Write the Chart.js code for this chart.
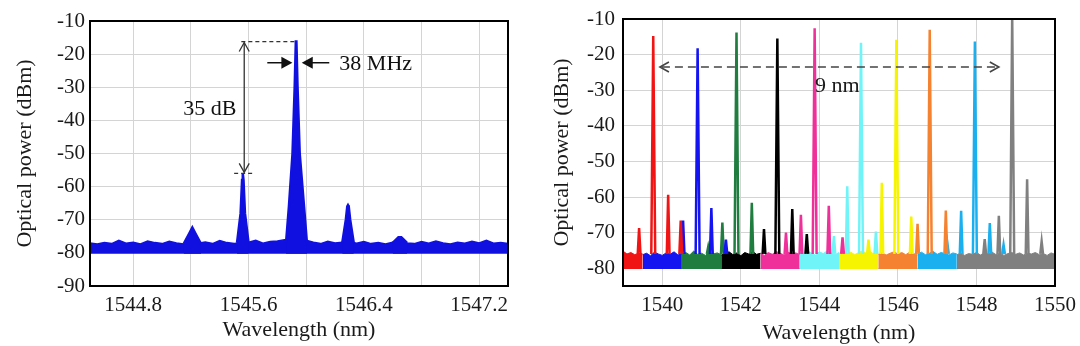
<!DOCTYPE html>
<html>
<head>
<meta charset="utf-8">
<script src="https://cdn.jsdelivr.net/npm/chart.js@4.4.1/dist/chart.umd.min.js"></script>
<style>
  html, body { margin: 0; padding: 0; background: #fff; }
  body { width: 1080px; height: 346px; overflow: hidden; position: relative; }
  .panel { position: absolute; top: 0; width: 540px; height: 346px; }
</style>
</head>
<body>
<div class="panel" style="left:0"><canvas id="single" width="540" height="346"></canvas></div>
<div class="panel" style="left:540px"><canvas id="multi" width="540" height="346"></canvas></div>
<script>
// ---------- left panel: one laser ----------
// noise floor top edge, read every 0.05 nm from 1544.50 to 1547.40
const singleFloorStart = 1544.5;
const singleFloorStep = 0.05;
const singleFloorTop = [
  -77.0, -77.3, -76.9, -77.2, -76.2, -77.1, -76.8, -77.3, -76.4, -76.9,
  -77.2, -76.5, -77.0, -77.3, -76.8, -77.1, -76.7, -77.2, -76.3, -76.9,
  -77.2, -77.0, -76.8, -76.2, -77.1, -76.6, -76.4, -76.0, -76.0, -76.0,
  -76.2, -76.8, -77.2, -76.5, -77.0, -76.8, -76.6, -77.1, -76.6, -77.2,
  -76.9, -77.3, -76.8, -76.5, -77.0, -77.2, -76.6, -77.1, -76.4, -77.0,
  -77.3, -76.8, -77.1, -76.5, -77.0, -76.2, -77.1, -76.9, -77.2
];
const singleFloorBottom = -80.3;
// peaks, [wavelength nm, power dBm] along each peak outline
const singlePeaks = [
  [[1545.15, -77.3], [1545.19, -74.0], [1545.21, -72.3], [1545.23, -74.0], [1545.27, -77.3]],
  [[1545.52, -77.0], [1545.545, -68.0], [1545.555, -58.0], [1545.56, -56.0], [1545.565, -58.0], [1545.575, -68.0], [1545.60, -77.0]],
  [[1545.86, -77.0], [1545.88, -66.0], [1545.905, -50.0], [1545.92, -30.0], [1545.928, -16.2],
   [1545.932, -16.2], [1545.94, -30.0], [1545.955, -50.0], [1545.985, -66.0], [1546.005, -77.0]],
  [[1546.25, -77.0], [1546.275, -70.0], [1546.285, -66.0], [1546.29, -65.6], [1546.295, -66.0], [1546.305, -70.0], [1546.33, -77.0]],
  [[1546.60, -77.0], [1546.64, -75.3], [1546.66, -75.3], [1546.70, -77.0]]
];
const singleXTicks = [1544.8, 1545.2, 1545.6, 1546.0, 1546.4, 1546.8, 1547.2];
const singleXLabels = ['1544.8', '', '1545.6', '', '1546.4', '', '1547.2'];
const singleYTicks = [-90, -80, -70, -60, -50, -40, -30, -20, -10];

// ---------- right panel: ten lasers ----------
const bandEdges = [1539.0, 1539.5, 1540.5, 1541.5, 1542.5, 1543.5, 1544.5, 1545.5, 1546.5, 1547.5, 1550.0];
// noise floor top edge of each band, read every 0.1 nm from the band start
const floorTops = [
  [-75.2, -76.0, -75.6, -76.2, -75.8, -76.0],
  [-76.2, -75.8, -76.5, -75.5, -76.0, -76.4, -75.7, -76.1, -75.4, -76.3, -75.9],
  [-76.0, -75.6, -76.3, -75.2, -76.1, -75.8, -76.4, -75.5, -76.0, -75.7, -76.2],
  [-76.3, -75.9, -75.4, -76.2, -75.7, -76.5, -75.6, -76.0, -75.3, -76.1, -75.8],
  [-75.9, -76.4, -75.6, -76.1, -75.3, -75.8, -76.3, -75.5, -76.0, -75.7, -76.2],
  [-75.5, -76.0, -75.2, -75.8, -76.3, -75.4, -75.9, -75.1, -75.7, -76.2, -75.6],
  [-75.8, -75.3, -76.0, -75.5, -76.2, -75.6, -75.1, -75.9, -75.4, -76.1, -75.7],
  [-76.1, -75.7, -76.3, -75.8, -75.4, -76.0, -75.6, -76.2, -75.5, -75.9, -76.3],
  [-76.0, -75.5, -76.2, -75.8, -75.3, -76.1, -75.6, -75.9, -76.3, -75.7, -76.0],
  [-76.2, -75.8, -76.4, -75.9, -76.1, -75.6, -76.3, -75.7, -76.0, -75.5, -76.2, -75.8, -76.4,
   -75.9, -75.6, -76.1, -75.7, -76.3, -75.8, -76.0, -75.6, -76.2, -75.9, -76.4, -75.7, -76.1]
];
const floorBottom = -80.2;
const mainPeakWl = [1539.77, 1540.90, 1541.89, 1542.93, 1543.88, 1545.06, 1545.96, 1546.81, 1547.96, 1548.91];
const mainPeakDbm = [-14.8, -18.2, -13.8, -15.5, -12.6, -16.7, -15.8, -13.0, -16.3, -9.0];
const sidePeaks = [
  [[1539.41, -68.7], [1540.15, -59.4], [1540.47, -66.6]],
  [[1540.53, -66.6], [1541.25, -63.1], [1541.62, -72.0]],
  [[1541.17, -74.0], [1541.53, -67.2], [1542.28, -61.6]],
  [[1542.59, -69.0], [1543.31, -63.4], [1543.68, -70.4]],
  [[1543.15, -70.0], [1543.53, -65.0], [1544.24, -62.5], [1544.59, -71.3]],
  [[1544.37, -71.0], [1544.71, -57.0], [1545.44, -69.7]],
  [[1545.25, -72.0], [1545.59, -56.0], [1546.34, -65.5]],
  [[1546.50, -67.5], [1547.22, -63.8]],
  [[1547.26, -73.0], [1547.61, -63.9], [1548.34, -67.3], [1548.69, -73.4]],
  [[1548.21, -71.8], [1548.57, -65.3], [1549.29, -55.0], [1549.66, -72.5]]
];
const multiXTicks = [1540, 1542, 1544, 1546, 1548, 1550];
const multiYTicks = [-80, -70, -60, -50, -40, -30, -20, -10];

// ---------- styles ----------
const laserColors = ['#f01414', '#1414f0', '#1f7d3f', '#000000', '#f0309a',
                     '#70f4f8', '#f6f400', '#f58230', '#1ab0f0', '#808080'];
const traceBlue = '#1010e0';
const serif = 'Liberation Serif';
const inkColor = '#1a1a1a';
const gridColor = '#d4d4d4';

function frameAndNotes(draw) {
  return {
    id: 'frameAndNotes',
    afterDraw(chart) {
      const ctx = chart.ctx;
      const a = chart.chartArea;
      ctx.save();
      ctx.strokeStyle = '#000';
      ctx.lineWidth = 2;
      ctx.strokeRect(a.left, a.top, a.right - a.left, a.bottom - a.top);
      draw(ctx, chart.scales.x, chart.scales.y);
      ctx.restore();
    }
  };
}

function line(ctx, x1, y1, x2, y2) {
  ctx.beginPath(); ctx.moveTo(x1, y1); ctx.lineTo(x2, y2); ctx.stroke();
}
// open chevron arrow head, dx/dy = direction it points
function openHead(ctx, x, y, dx, dy) {
  const l = 9, w = 5;
  ctx.beginPath();
  ctx.moveTo(x - dx * l + dy * w, y - dy * l + dx * w);
  ctx.lineTo(x, y);
  ctx.lineTo(x - dx * l - dy * w, y - dy * l - dx * w);
  ctx.stroke();
}
function filledHead(ctx, x, y, dx) {
  ctx.beginPath();
  ctx.moveTo(x, y);
  ctx.lineTo(x - dx * 11, y - 6);
  ctx.lineTo(x - dx * 11, y + 6);
  ctx.closePath();
  ctx.fill();
}

function axisFont(size) { return { family: serif, size: size }; }
// fixed box sizes so the plot frames land where the figure has them
function fixHeight(h) { return s => { s.height = h; s.paddingLeft = 0; s.paddingRight = 0; }; }
function fixWidth(w) { return s => { s.width = w; s.paddingTop = 0; s.paddingBottom = 0; }; }

// ---------- left chart ----------
const singleDatasets = [{
  data: singleFloorTop.map((v, i) => ({ x: singleFloorStart + i * singleFloorStep, y: v })),
  borderColor: traceBlue, backgroundColor: traceBlue, borderWidth: 1.5,
  pointRadius: 0, fill: { value: singleFloorBottom }, order: 2
}];
singlePeaks.forEach(p => singleDatasets.push({
  data: p.map(q => ({ x: q[0], y: q[1] })),
  borderColor: traceBlue, backgroundColor: traceBlue, borderWidth: 2.5,
  pointRadius: 0, fill: { value: singleFloorBottom }, order: 1
}));

new Chart(document.getElementById('single'), {
  type: 'line',
  data: { datasets: singleDatasets },
  options: {
    responsive: false, animation: false,
    layout: { padding: { left: 0, top: 21, right: 32, bottom: 0 } },
    plugins: { legend: { display: false }, tooltip: { enabled: false } },
    scales: {
      x: {
        type: 'linear', min: 1544.5, max: 1547.4,
        afterBuildTicks: s => { s.ticks = singleXTicks.map(v => ({ value: v })); },
        afterFit: fixHeight(60),
        ticks: { callback: (v, i) => singleXLabels[i], font: axisFont(21), color: inkColor, padding: 7, maxRotation: 0, autoSkip: false },
        grid: { color: gridColor, drawTicks: false },
        border: { display: false },
        title: { display: true, text: 'Wavelength (nm)', font: axisFont(22), color: inkColor, padding: { top: 0, bottom: 3 } }
      },
      y: {
        min: -90, max: -10,
        afterBuildTicks: s => { s.ticks = singleYTicks.map(v => ({ value: v })); },
        afterFit: fixWidth(90),
        ticks: { font: axisFont(21), color: inkColor, padding: 5 },
        grid: { color: gridColor, drawTicks: false },
        border: { display: false },
        title: { display: true, text: 'Optical power (dBm)', font: axisFont(22), color: inkColor, padding: { top: 12, bottom: 0 } }
      }
    }
  },
  plugins: [frameAndNotes((ctx, x, y) => {
    ctx.strokeStyle = '#333';
    ctx.fillStyle = '#111';
    ctx.lineWidth = 1.3;
    ctx.setLineDash([4, 3]);
    line(ctx, x.getPixelForValue(1545.55), y.getPixelForValue(-16.2), x.getPixelForValue(1545.93), y.getPixelForValue(-16.2));
    line(ctx, x.getPixelForValue(1545.50), y.getPixelForValue(-56), x.getPixelForValue(1545.63), y.getPixelForValue(-56));
    ctx.setLineDash([]);
    const ax = x.getPixelForValue(1545.57);
    const at = y.getPixelForValue(-16.5), ab = y.getPixelForValue(-55.7);
    line(ctx, ax, at, ax, ab);
    openHead(ctx, ax, at, 0, -1);
    openHead(ctx, ax, ab, 0, 1);
    ctx.font = '22px "' + serif + '"';
    ctx.textBaseline = 'middle';
    ctx.textAlign = 'right';
    ctx.fillText('35 dB', x.getPixelForValue(1545.515), y.getPixelForValue(-36.5));
    const my = y.getPixelForValue(-22.6);
    ctx.strokeStyle = '#111';
    ctx.lineWidth = 1.5;
    line(ctx, x.getPixelForValue(1545.73), my, x.getPixelForValue(1545.904) - 6, my);
    filledHead(ctx, x.getPixelForValue(1545.904), my, 1);
    line(ctx, x.getPixelForValue(1545.969) + 6, my, x.getPixelForValue(1546.16), my);
    filledHead(ctx, x.getPixelForValue(1545.969), my, -1);
    ctx.textAlign = 'left';
    ctx.fillText('38 MHz', x.getPixelForValue(1546.23), y.getPixelForValue(-23.0));
  })]
});

// ---------- right chart ----------
const multiDatasets = [];
laserColors.forEach((c, k) => {
  const pts = [];
  const peaks = sidePeaks[k].concat([[mainPeakWl[k], mainPeakDbm[k]]]).sort((a, b) => a[0] - b[0]);
  peaks.forEach(p => {
    const hw = p[0] === mainPeakWl[k] ? 0.05 : 0.035;
    pts.push({ x: p[0] - hw, y: -76 }, { x: p[0], y: p[1] }, { x: p[0] + hw, y: -76 }, { x: p[0] + hw, y: null });
  });
  multiDatasets.push({
    data: pts, borderColor: c, backgroundColor: c, borderWidth: 2.5,
    pointRadius: 0, fill: false, spanGaps: false, order: 1
  });
  multiDatasets.push({
    data: floorTops[k].map((v, i) => ({ x: bandEdges[k] + i * 0.1, y: v })),
    borderColor: c, backgroundColor: c, borderWidth: 1,
    pointRadius: 0, fill: { value: floorBottom }, order: 2
  });
});

new Chart(document.getElementById('multi'), {
  type: 'line',
  data: { datasets: multiDatasets },
  options: {
    responsive: false, animation: false,
    layout: { padding: { left: 0, top: 19, right: 25, bottom: 0 } },
    plugins: { legend: { display: false }, tooltip: { enabled: false } },
    scales: {
      x: {
        type: 'linear', min: 1539, max: 1550,
        afterBuildTicks: s => { s.ticks = multiXTicks.map(v => ({ value: v })); },
        afterFit: fixHeight(60),
        ticks: { callback: v => String(v), font: axisFont(21), color: inkColor, padding: 7, maxRotation: 0, autoSkip: false },
        grid: { color: gridColor, drawTicks: false },
        border: { display: false },
        title: { display: true, text: 'Wavelength (nm)', font: axisFont(22), color: inkColor, padding: { top: 0, bottom: 0 } }
      },
      y: {
        min: -85, max: -10,
        afterBuildTicks: s => { s.ticks = multiYTicks.map(v => ({ value: v })); },
        afterFit: fixWidth(83),
        ticks: { font: axisFont(21), color: inkColor, padding: 8 },
        grid: { color: gridColor, drawTicks: false },
        border: { display: false },
        title: { display: true, text: 'Optical power (dBm)', font: axisFont(22), color: inkColor, padding: { top: 9, bottom: 0 } }
      }
    }
  },
  plugins: [frameAndNotes((ctx, x, y) => {
    ctx.strokeStyle = '#444';
    ctx.fillStyle = '#1a1a1a';
    ctx.lineWidth = 1.6;
    const sy = y.getPixelForValue(-23.5);
    const x1 = x.getPixelForValue(1539.94), x2 = x.getPixelForValue(1548.57);
    ctx.setLineDash([8, 5]);
    line(ctx, x1 + 2, sy, x2 - 2, sy);
    ctx.setLineDash([]);
    openHead(ctx, x1, sy, -1, 0);
    openHead(ctx, x2, sy, 1, 0);
    ctx.font = '22px "' + serif + '"';
    ctx.textAlign = 'center';
    ctx.textBaseline = 'middle';
    ctx.fillText('9 nm', x.getPixelForValue(1544.46), y.getPixelForValue(-28.9));
  })]
});
</script>
</body>
</html>
